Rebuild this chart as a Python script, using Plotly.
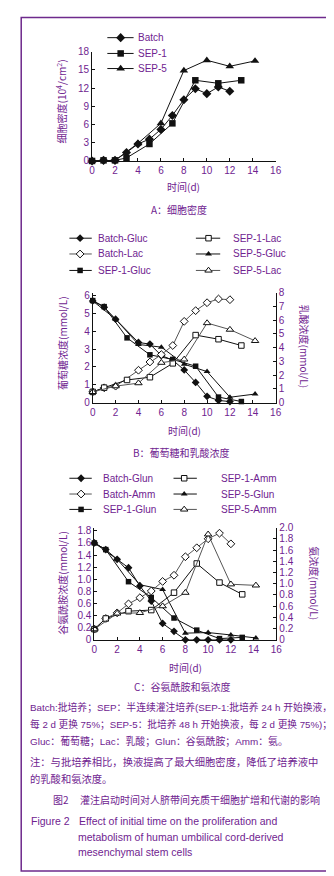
import plotly.graph_objects as go

W, H = 334, 876
PURPLE = "#6f2390"
BORDER = "#6e2a8c"
FONT = "Liberation Sans, Arial, Noto Sans CJK SC, sans-serif"
CJK = "Noto Sans CJK SC, Liberation Sans, sans-serif"
MIX = "Liberation Sans, Noto Sans CJK SC, sans-serif"

# ---------------- data ----------------
# Panel A: cell density (10^4/cm^2)
a_batch_day = [0, 1, 2, 3, 4, 5, 6, 7, 8, 9, 10, 11, 12]
a_batch_val = [0, 0.1, 0.1, 1.4, 2.8, 3.6, 5.2, 7.5, 10.1, 11.9, 11.1, 12.2, 11.5]
a_sep1_day = [0, 1, 2, 3, 5, 7, 9, 11, 13]
a_sep1_val = [0, 0.1, 0.1, 0.5, 2.8, 6.2, 13.3, 12.8, 13.3]
a_sep5_day = [0, 2, 4, 6, 8, 10, 12, 14.2]
a_sep5_val = [0, 0.1, 2.9, 6.2, 14.9, 16.6, 15.6, 16.5]

# Panel B: glucose (left) and lactate (right), mmol/L
b_batch_gluc_day = [0, 1, 2, 4, 5, 6, 7, 8, 9, 10, 11, 12]
b_batch_gluc_val = [5.7, 5.35, 4.68, 3.37, 3.28, 2.64, 2.38, 1.83, 1.13, 0.35, 0.12, 0.06]
b_sep1_gluc_day = [0, 1, 3, 5, 7, 9, 11, 13]
b_sep1_gluc_val = [5.72, 5.38, 3.63, 2.68, 2.42, 2.04, 0.31, 0.06]
b_sep5_gluc_day = [0, 2, 4, 6, 8, 10, 12, 14.2]
b_sep5_gluc_val = [5.7, 4.68, 3.26, 3.11, 2.15, 1.74, 0.3, 0.48]

b_batch_lac_day = [0, 1, 2, 4, 5, 6, 7, 8, 9, 10, 11, 12]
b_batch_lac_val = [0.78, 1.08, 1.2, 2.36, 2.96, 3.5, 4.16, 5.92, 6.7, 7.28, 7.55, 7.5]
b_sep1_lac_day = [0, 1, 3, 5, 7, 9, 11, 13]
b_sep1_lac_val = [0.78, 1.09, 1.65, 1.85, 2.86, 4.92, 4.62, 4.16]
b_sep5_lac_day = [0, 2, 4, 6, 8, 10, 12, 14.2]
b_sep5_lac_val = [0.78, 1.2, 1.42, 2.91, 3.15, 5.8, 5.32, 4.5]

# Panel C: glutamine (left) and ammonia (right), mmol/L
c_batch_glun_day = [0, 1, 2, 3, 4, 5, 6, 7, 8, 9, 10, 11, 12]
c_batch_glun_val = [1.6, 1.49, 1.33, 1.19, 0.89, 0.64, 0.27, 0.14, 0, 0, 0, 0, 0]
c_sep1_glun_day = [0, 1, 3, 5, 7, 9, 11, 13]
c_sep1_glun_val = [1.6, 1.49, 0.96, 0.7, 0.36, 0.16, 0.02, 0.04]
c_sep5_glun_day = [0, 2, 4, 6, 8, 10, 12, 14.2]
c_sep5_glun_val = [1.6, 1.33, 0.91, 0.83, 0.11, 0.12, 0.08, 0.03]

c_batch_amm_day = [0, 1, 2, 3, 4, 5, 6, 7, 8, 9, 10, 11, 12]
c_batch_amm_val = [0.19, 0.38, 0.48, 0.64, 0.75, 0.87, 1.04, 1.15, 1.48, 1.64, 1.8, 1.9, 1.71]
c_sep1_amm_day = [0, 1, 3, 5, 7, 9, 11, 13]
c_sep1_amm_val = [0.19, 0.38, 0.51, 0.53, 0.84, 1.36, 1.02, 0.81]
c_sep5_amm_day = [0, 2, 4, 6, 8, 10, 12, 14.2]
c_sep5_amm_val = [0.19, 0.47, 0.48, 0.6, 0.84, 1.88, 0.99, 0.97]

x_ticks = [0, 2, 4, 6, 8, 10, 12, 14, 16]
a_y_ticks = [0, 3, 6, 9, 12, 15, 18]
b_left_ticks = [0, 1, 2, 3, 4, 5, 6]
b_right_ticks = [0, 1, 2, 3, 4, 5, 6, 7, 8]
c_left_ticks = [0, 0.2, 0.4, 0.6, 0.8, 1.0, 1.2, 1.4, 1.6, 1.8]
c_left_text = ["0", "0.2", "0.4", "0.6", "0.8", "1.0", "1.2", "1.4", "1.6", "1.8"]
c_right_ticks = [0, 0.2, 0.4, 0.6, 0.8, 1.0, 1.2, 1.4, 1.6, 1.8, 2.0]
c_right_text = ["0", "0.2", "0.4", "0.6", "0.8", "1.0", "1.2", "1.4", "1.6", "1.8", "2.0"]


def fx(px):
    return px / W


def fy(py):
    return 1 - py / H


fig = go.Figure()

BLACK = "#111111"
GRAY = "#555555"

STYLE = {
    "fdiamond": dict(symbol="diamond", size=7, color=BLACK, line=dict(width=0)),
    "fdiamond_s": dict(symbol="diamond", size=6, color=BLACK, line=dict(width=0)),
    "odiamond": dict(symbol="diamond", size=6, color="white", line=dict(width=1, color=BLACK)),
    "fsquare": dict(symbol="square", size=6.5, color=BLACK, line=dict(width=0)),
    "fsquare_s": dict(symbol="square", size=5.5, color=BLACK, line=dict(width=0)),
    "osquare": dict(symbol="square", size=5.5, color="white", line=dict(width=1, color=BLACK)),
    "ftri": dict(symbol="triangle-up", size=7.5, color=BLACK, line=dict(width=0)),
    "ftri_s": dict(symbol="triangle-up", size=6, color=BLACK, line=dict(width=0)),
    "otri": dict(symbol="triangle-up", size=6.5, color="white", line=dict(width=1, color=BLACK)),
}


def add_series(xs, ys, mk, xa, ya, lc=BLACK):
    fig.add_trace(go.Scatter(
        x=xs, y=ys, mode="lines+markers", xaxis=xa, yaxis=ya,
        line=dict(color=lc, width=1), marker=STYLE[mk],
        cliponaxis=False, showlegend=False, hoverinfo="skip"))


# Panel A
add_series(a_batch_day, a_batch_val, "fdiamond", "x", "y")
add_series(a_sep1_day, a_sep1_val, "fsquare", "x", "y")
add_series(a_sep5_day, a_sep5_val, "ftri", "x", "y")

# Panel B
add_series(b_batch_gluc_day, b_batch_gluc_val, "fdiamond_s", "x2", "y2")
add_series(b_sep1_gluc_day, b_sep1_gluc_val, "fsquare_s", "x2", "y2")
add_series(b_sep5_gluc_day, b_sep5_gluc_val, "ftri_s", "x2", "y2")
add_series(b_batch_lac_day, b_batch_lac_val, "odiamond", "x2", "y3", GRAY)
add_series(b_sep1_lac_day, b_sep1_lac_val, "osquare", "x2", "y3")
add_series(b_sep5_lac_day, b_sep5_lac_val, "otri", "x2", "y3", GRAY)

# Panel C
add_series(c_batch_glun_day, c_batch_glun_val, "fdiamond_s", "x3", "y4")
add_series(c_sep1_glun_day, c_sep1_glun_val, "fsquare_s", "x3", "y4")
add_series(c_sep5_glun_day, c_sep5_glun_val, "ftri_s", "x3", "y4")
add_series(c_batch_amm_day, c_batch_amm_val, "odiamond", "x3", "y5", GRAY)
add_series(c_sep1_amm_day, c_sep1_amm_val, "osquare", "x3", "y5")
add_series(c_sep5_amm_day, c_sep5_amm_val, "otri", "x3", "y5", GRAY)

annotations = []


def text(px, py, s, size=10, anchor="left", angle=0, font=FONT, color=PURPLE):
    annotations.append(dict(
        x=fx(px), y=fy(py), xref="paper", yref="paper", text=s, showarrow=False,
        xanchor=anchor, yanchor="middle", textangle=angle, borderpad=0,
        font=dict(family=font, size=size, color=color)))


# legend glyphs (overlay axis in pixel space)
def legend_item(x1, xm, x2, y, mk, label, tx, lc=BLACK):
    fig.add_trace(go.Scatter(
        x=[x1, x2], y=[y, y], mode="lines", xaxis="x4", yaxis="y6",
        line=dict(color=lc, width=1), showlegend=False, hoverinfo="skip"))
    fig.add_trace(go.Scatter(
        x=[xm], y=[y], mode="markers", xaxis="x4", yaxis="y6",
        marker=STYLE[mk], showlegend=False, hoverinfo="skip"))
    text(tx, y, label, size=10)


legend_item(99, 112.7, 126, 24, "fdiamond", "Batch", 130)
legend_item(99, 112.7, 126, 40, "fsquare", "SEP-1", 130)
legend_item(99, 112.7, 126, 55.3, "ftri", "SEP-5", 130)

legend_item(60, 71, 83, 227.3, "fdiamond_s", "Batch-Gluc", 88)
legend_item(60, 71, 83, 243.3, "odiamond", "Batch-Lac", 88, GRAY)
legend_item(60, 71, 83, 260, "fsquare_s", "SEP-1-Gluc", 88)
legend_item(190, 203, 215, 227.3, "osquare", "SEP-1-Lac", 227)
legend_item(190, 203, 215, 243.3, "ftri_s", "SEP-5-Gluc", 227)
legend_item(190, 203, 215, 260, "otri", "SEP-5-Lac", 227, GRAY)

legend_item(60, 72, 83, 470.7, "fdiamond_s", "Batch-Glun", 94)
legend_item(60, 72, 83, 486.7, "odiamond", "Batch-Amm", 94, GRAY)
legend_item(60, 72, 83, 502.3, "fsquare_s", "SEP-1-Glun", 94)
legend_item(167, 178, 191, 470.7, "osquare", "SEP-1-Amm", 215)
legend_item(167, 178, 191, 486.7, "ftri_s", "SEP-5-Glun", 215)
legend_item(167, 178, 191, 502.3, "otri", "SEP-5-Amm", 215, GRAY)

# axis titles & subtitles
text(52, 89, "细胞密度(10<sup>4</sup>/cm<sup>2</sup>)", size=10, anchor="center", angle=-90, font=CJK)
text(177.5, 175, "时间(d)", size=10, anchor="center", font=CJK)
text(173, 198, "A：细胞密度", size=10, anchor="center", font=CJK)

text(53, 334, "葡萄糖浓度(mmol/L)", size=10, anchor="center", angle=-90, font=CJK)
text(302, 337, "乳酸浓度(mmol/L)", size=10, anchor="center", angle=90, font=CJK)
text(178, 422, "时间(d)", size=10, anchor="center", font=CJK)
text(175, 445, "B：葡萄糖和乳酸浓度", size=10, anchor="center", font=CJK)

text(52, 577, "谷氨酰胺浓度(mmol/L)", size=10, anchor="center", angle=-90, font=CJK)
text(312, 577, "氨浓度(mmol/L)", size=10, anchor="center", angle=90, font=CJK)
text(179, 663, "时间(d)", size=10, anchor="center", font=CJK)
text(176, 682, "C：谷氨酰胺和氨浓度", size=10, anchor="center", font=CJK)

# notes & caption
text(18, 703, "Batch:批培养；SEP：半连续灌注培养(SEP-1:批培养 24 h 开始换液，", size=9.8, font=MIX)
text(18, 720, "每 2 d 更换 75%；SEP-5：批培养 48 h 开始换液，每 2 d 更换 75%)；", size=9.7, font=MIX)
text(18, 737, "Gluc：葡萄糖；Lac：乳酸；Glun：谷氨酰胺；Amm：氨。", size=9.9, font=MIX)
text(18, 758, "注：与批培养相比，换液提高了最大细胞密度，降低了培养液中", size=10.3, font=CJK)
text(18, 775, "的乳酸和氨浓度。", size=10.3, font=CJK)
text(42, 796, "图2", size=10, font=CJK)
text(70, 796, "灌注启动时间对人脐带间充质干细胞扩增和代谢的影响", size=10, font=CJK)
text(20, 818, "Figure 2", size=10.5)
text(69, 818, "Effect of initial time on the proliferation and", size=10.5)
text(68, 834, "metabolism of human umbilical cord-derived", size=10.5)
text(68, 850, "mesenchymal stem cells", size=10.5)

tickfont = dict(family=FONT, size=10, color=PURPLE)
axis_common = dict(showline=True, linecolor=BLACK, linewidth=1, showgrid=False,
                   zeroline=False, ticks="inside", ticklen=3, tickcolor=BLACK,
                   tickfont=tickfont, fixedrange=True)


def xdom(a, b):
    return [fx(a), fx(b)]


def ydom(bottom, top):
    return [fy(bottom), fy(top)]


fig.update_layout(
    width=W, height=H,
    margin=dict(l=0, r=0, t=0, b=0),
    paper_bgcolor="white", plot_bgcolor="rgba(0,0,0,0)",
    showlegend=False,
    xaxis=dict(domain=xdom(83.3, 272), range=[0, 16], tickvals=x_ticks, anchor="y", **axis_common),
    yaxis=dict(domain=ydom(149, 38.3), range=[0, 18], tickvals=a_y_ticks, anchor="x", **axis_common),
    xaxis2=dict(domain=xdom(84, 272), range=[0, 16], tickvals=x_ticks, anchor="y2", **axis_common),
    yaxis2=dict(domain=ydom(394, 282.7), range=[0, 6.155], tickvals=b_left_ticks, anchor="x2", **axis_common),
    yaxis3=dict(range=[0, 8], tickvals=b_right_ticks, overlaying="y2", side="right", anchor="x2", **axis_common),
    xaxis3=dict(domain=xdom(85.7, 272.7), range=[0, 16], tickvals=x_ticks, anchor="y4", **axis_common),
    yaxis4=dict(domain=ydom(634.5, 520.7), range=[0, 1.854], tickvals=c_left_ticks, ticktext=c_left_text,
                anchor="x3", **axis_common),
    yaxis5=dict(range=[0, 2.0], tickvals=c_right_ticks, ticktext=c_right_text, overlaying="y4",
                side="right", anchor="x3", **axis_common),
    xaxis4=dict(domain=[0, 1], range=[0, W], visible=False, fixedrange=True, anchor="y6"),
    yaxis6=dict(domain=[0, 1], range=[H, 0], visible=False, fixedrange=True, anchor="x4"),
    annotations=annotations,
    shapes=[dict(type="rect", xref="paper", yref="paper",
                 x0=fx(10.5), x1=fx(327.5), y0=fy(869), y1=fy(3.5),
                 line=dict(color=BORDER, width=1.5), fillcolor="rgba(0,0,0,0)")],
)

fig.write_html("out.html")
